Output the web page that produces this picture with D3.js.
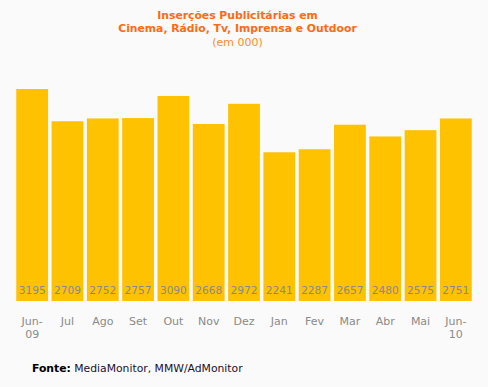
<!DOCTYPE html>
<html>
<head>
<meta charset="utf-8">
<script src="https://cdn.jsdelivr.net/npm/d3@7"></script>
<style>
  body { margin: 0; background: #fafafa; }
  svg { display: block; }
</style>
</head>
<body>
<svg id="chart" width="488" height="387"></svg>
<script>
var months = ["Jun-09", "Jul", "Ago", "Set", "Out", "Nov", "Dez", "Jan", "Fev", "Mar", "Abr", "Mai", "Jun-10"];
var values = [3195, 2709, 2752, 2757, 3090, 2668, 2972, 2241, 2287, 2657, 2480, 2575, 2751];
var titleLines = ["Inserções Publicitárias em", "Cinema, Rádio, Tv, Imprensa e Outdoor"];
var subtitle = "(em 000)";

var svg = d3.select('#chart');
var font = 'DejaVu Sans, Verdana, sans-serif';

svg.append('rect').attr('width', 488).attr('height', 387).attr('fill', '#fafafa');

var x = d3.scaleBand()
    .domain(months)
    .range([14.5, 473.5])
    .paddingInner(0.1)
    .paddingOuter(0.05);

var y = d3.scaleLinear()
    .domain([0, 3195])
    .range([301, 89]);

// title
titleLines.forEach(function(t, i){
    svg.append('text')
        .attr('x', 237.5)
        .attr('y', 18.5 + i * 13.5)
        .attr('text-anchor', 'middle')
        .attr('font-family', font)
        .attr('font-weight', 'bold')
        .attr('font-size', '10.8px')
        .attr('fill', '#ff6a13')
        .text(t);
});
svg.append('text')
    .attr('x', 237.5)
    .attr('y', 45.5)
    .attr('text-anchor', 'middle')
    .attr('font-family', font)
    .attr('font-size', '11px')
    .attr('fill', '#ff8a2a')
    .text(subtitle);

// bars
svg.selectAll('.bar')
    .data(values)
    .enter()
    .append('rect')
    .attr('class', 'bar')
    .attr('x', function(d, i){ return x(months[i]); })
    .attr('y', function(d){ return y(d); })
    .attr('width', x.bandwidth())
    .attr('height', function(d){ return y(0) - y(d); })
    .attr('fill', '#ffc200');

// value labels
svg.selectAll('.val')
    .data(values)
    .enter()
    .append('text')
    .attr('class', 'val')
    .attr('x', function(d, i){ return x(months[i]) + x.bandwidth() / 2; })
    .attr('y', 294)
    .attr('text-anchor', 'middle')
    .attr('font-family', font)
    .attr('font-size', '10.6px')
    .attr('fill', '#8a8a8a')
    .text(function(d){ return d; });

// x axis labels
var xAxis = d3.axisBottom(x).tickSize(0).tickFormat('');
svg.append('g').attr('transform', 'translate(0,301)').call(xAxis).select('.domain').remove();

months.forEach(function(m){
    var parts = m.indexOf('-') > 0 ? [m.split('-')[0] + '-', m.split('-')[1]] : [m];
    var t = svg.append('text')
        .attr('x', x(m) + x.bandwidth() / 2)
        .attr('y', 325)
        .attr('text-anchor', 'middle')
        .attr('font-family', font)
        .attr('font-size', '11px')
        .attr('fill', '#8a8a8a');
    parts.forEach(function(p, i){
        t.append('tspan')
            .attr('x', x(m) + x.bandwidth() / 2)
            .attr('dy', i == 0 ? 0 : 13)
            .text(p);
    });
});

// source
var src = svg.append('text')
    .attr('x', 32)
    .attr('y', 372)
    .attr('font-family', font)
    .attr('font-size', '10.8px')
    .attr('fill', '#000');
src.append('tspan').attr('font-weight', 'bold').text('Fonte:');
src.append('tspan').attr('fill', '#1a1030').text(' MediaMonitor, MMW/AdMonitor');
</script>
</body>
</html>
